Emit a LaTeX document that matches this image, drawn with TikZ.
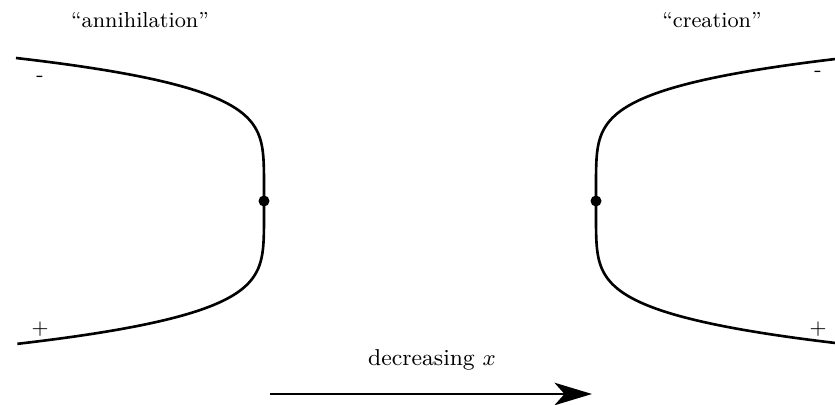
\documentclass[tikz,border=0pt]{standalone}
\usetikzlibrary{arrows.meta}
\begin{document}
\begin{tikzpicture}[x=0.4pt,y=-0.4pt,
  curve/.style={line width=1.05pt},
  lbl/.style={inner sep=0pt,font=\fontsize{9.2}{11}\selectfont},
  ttl/.style={inner sep=0pt,font=\fontsize{8.7}{11}\selectfont},
  sgn/.style={inner sep=0pt,font=\fontsize{8.5}{10}\selectfont},
  dotmark/.style={fill=black,draw=none}]
\clip (0,0) rectangle (835,405);
\useasboundingbox (0,0) rectangle (835,405);
% left branch ("annihilation")
\draw[curve] plot[domain=-1:1,samples=201,smooth,variable=\t]
  ({264-248*pow(abs(\t),5)},{201+143*\t});
% right branch ("creation")
\draw[curve] plot[domain=-1:1,samples=201,smooth,variable=\t]
  ({596+248*pow(abs(\t),5)},{201+143*\t});
\coordinate (dl) at (264,201);
\coordinate (dr) at (596,201);
\fill[dotmark] (dl) circle[radius=5.5];
\fill[dotmark] (dr) circle[radius=5.5];
\node[ttl] (tA) at (140,20) {``annihilation''};
\node[ttl] (tC) at (712,20) {``creation''};
\node[sgn] (mL) at (40,79) {-};
\node[sgn] (pL) at (40,329) {+};
\node[sgn] (mR) at (818,74) {-};
\node[sgn] (pR) at (818,329) {+};
\node[lbl] (dec) at (432,360) {decreasing $x$};
\coordinate (a1) at (270,394);
\coordinate (a2) at (592,394);
\draw[line width=1.1pt,-{Stealth[length=15pt,width=9pt,inset=4pt]}] (a1) -- (a2);
\end{tikzpicture}
\end{document}
